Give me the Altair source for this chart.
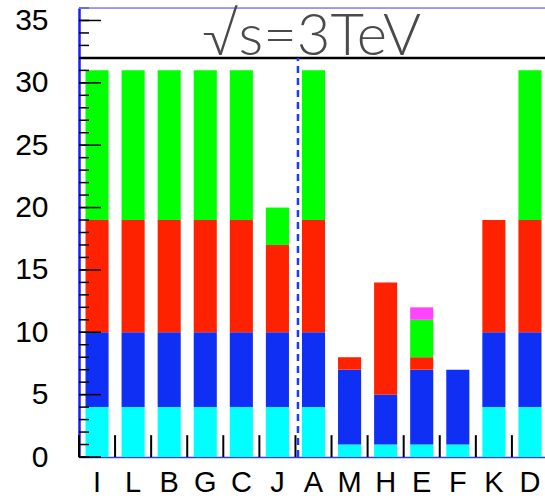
import altair as alt
import pandas as pd

categories = ["I", "L", "B", "G", "C", "J", "A", "M", "H", "E", "F", "K", "D"]
series_names = ["s1", "s2", "s3", "s4", "s5"]
series_colors = ["#00ffff", "#0f2ff5", "#ff2200", "#00ff00", "#ff44ff"]
cyan = [4, 4, 4, 4, 4, 4, 4, 1, 1, 1, 1, 4, 4]
blue = [6, 6, 6, 6, 6, 6, 6, 6, 4, 6, 6, 6, 6]
red = [9, 9, 9, 9, 9, 7, 9, 1, 9, 1, 0, 9, 9]
green = [12, 12, 12, 12, 12, 3, 12, 0, 0, 3, 0, 0, 12]
magenta = [0, 0, 0, 0, 0, 0, 0, 0, 0, 1, 0, 0, 0]
y_major = [0, 5, 10, 15, 20, 25, 30, 35]
y_minor = list(range(0, 37))
y_max = 36
header_line = 32
title_text = "\u221as=3TeV"

rows = []
for i, c in enumerate(categories):
    base = 0
    for name, vals in zip(series_names, [cyan, blue, red, green, magenta]):
        v = vals[i]
        if v > 0:
            rows.append({"cat": c, "series": name, "start": base, "end": base + v})
        base += v
bars_df = pd.DataFrame(rows)

W, H = 466, 449
xscale = alt.Scale(domain=categories, range=[0, 469], paddingInner=0.36, paddingOuter=0.18)
yscale = alt.Scale(domain=[0, y_max], nice=False, zero=True)

bars = alt.Chart(bars_df).mark_bar().encode(
    x=alt.X("cat:N", scale=xscale, sort=categories,
            axis=alt.Axis(title=None, labelAngle=0, labelFontSize=29, labelFont="Liberation Sans",
                          labelColor="black", ticks=False, tickSize=0, labelPadding=11,
                          domainColor="#2a3cff", domainWidth=1.5)),
    y=alt.Y("start:Q", scale=yscale,
            axis=alt.Axis(title=None, values=y_major, labelFontSize=30, labelFont="Liberation Sans",
                          labelColor="black", ticks=False, tickSize=0, labelPadding=31, grid=False,
                          domainColor="#1a1aff", domainWidth=2.5)),
    y2="end:Q",
    color=alt.Color("series:N", scale=alt.Scale(domain=series_names, range=series_colors), legend=None),
)

minor_df = pd.DataFrame({"v": y_minor})
major_df = pd.DataFrame({"v": y_major})
minor_ticks = alt.Chart(minor_df).mark_rule(color="black", strokeWidth=1.5).encode(
    y=alt.Y("v:Q", scale=yscale), x=alt.value(0), x2=alt.value(10))
major_ticks = alt.Chart(major_df).mark_rule(color="black", strokeWidth=1.5).encode(
    y=alt.Y("v:Q", scale=yscale), x=alt.value(0), x2=alt.value(22))

cat_df = pd.DataFrame({"cat": categories})
x_ticks = alt.Chart(cat_df).mark_rule(color="black", strokeWidth=2, xOffset=-6.5).encode(
    x=alt.X("cat:N", scale=xscale, sort=categories, bandPosition=0),
    y=alt.datum(0, scale=yscale), y2=alt.datum(1.75))

top_border = alt.Chart(pd.DataFrame({"v": [y_max]})).mark_rule(color="#7f7fff", strokeWidth=1.5).encode(
    y=alt.Y("v:Q", scale=yscale), x=alt.value(0), x2=alt.value(469))
hline = alt.Chart(pd.DataFrame({"v": [header_line]})).mark_rule(color="black", strokeWidth=2.5).encode(
    y=alt.Y("v:Q", scale=yscale), x=alt.value(0), x2=alt.value(469))

sep_df = pd.DataFrame({"cat": ["A"], "lo": [0], "hi": [header_line]})
sep = alt.Chart(sep_df).mark_rule(color="#1a3cff", strokeWidth=2.5, strokeDash=[7, 5], xOffset=-4).encode(
    x=alt.X("cat:N", scale=xscale, sort=categories, bandPosition=0),
    y=alt.Y("lo:Q", scale=yscale), y2="hi:Q")

title_df = pd.DataFrame({"cat": ["A"], "y": [32.2], "t": [title_text]})
title = alt.Chart(title_df).mark_text(font="Lato", fontWeight=300, fontSize=58, color="#4a4a4a",
                                      baseline="alphabetic", align="center", xOffset=-2).encode(
    x=alt.X("cat:N", scale=xscale, sort=categories),
    y=alt.Y("y:Q", scale=yscale), text="t:N")

chart = alt.layer(bars, minor_ticks, major_ticks, x_ticks, top_border, hline, sep, title).properties(
    width=W, height=H,
    autosize=alt.AutoSizeParams(type="none"),
    padding={"left": 79, "top": 8, "right": 0, "bottom": 43},
).configure_view(stroke=None).configure(background="white")

chart.save("out.html", embed_options={"renderer": "svg", "actions": False})
